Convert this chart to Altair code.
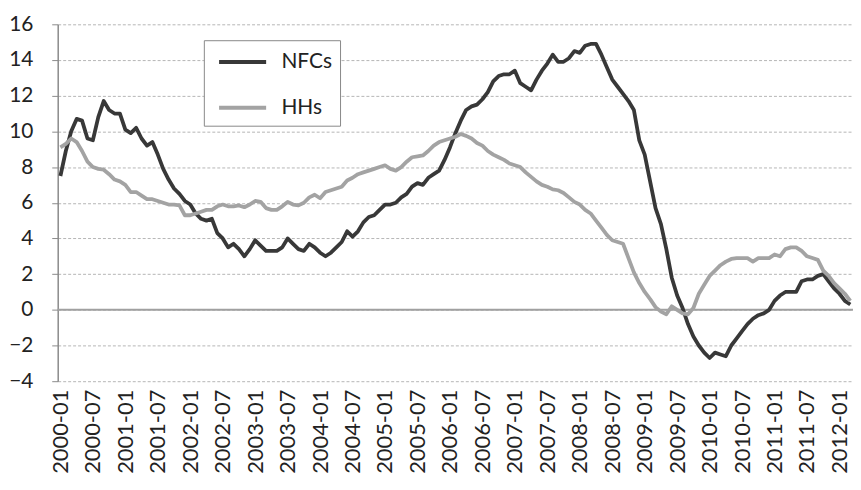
import altair as alt
import pandas as pd

# Monthly categories 2000-01 .. 2012-03
months = [f"{y}-{m:02d}" for y in range(2000, 2013) for m in range(1, 13)][:147]

nfcs = [
    7.5, 8.9, 10.0, 10.7, 10.6, 9.6, 9.5, 10.8, 11.7, 11.2, 11.0, 11.0,
    10.1, 9.9, 10.2, 9.6, 9.2, 9.4, 8.7, 7.9, 7.3, 6.8, 6.5, 6.1,
    5.9, 5.4, 5.1, 5.0, 5.1, 4.3, 4.0, 3.5, 3.7, 3.4, 3.0, 3.4,
    3.9, 3.6, 3.3, 3.3, 3.3, 3.5, 4.0, 3.7, 3.4, 3.3, 3.7, 3.5,
    3.2, 3.0, 3.2, 3.5, 3.8, 4.4, 4.1, 4.4, 4.9, 5.2, 5.3, 5.6,
    5.9, 5.9, 6.0, 6.3, 6.5, 6.9, 7.1, 7.0, 7.4, 7.6, 7.8, 8.4,
    9.1, 9.9, 10.6, 11.2, 11.4, 11.5, 11.8, 12.2, 12.8, 13.1, 13.2, 13.2,
    13.4, 12.7, 12.5, 12.3, 12.9, 13.4, 13.8, 14.3, 13.9, 13.9, 14.1, 14.5,
    14.4, 14.8, 14.9, 14.9, 14.3, 13.6, 12.9, 12.5, 12.1, 11.7, 11.2, 9.5,
    8.7, 7.2, 5.7, 4.8, 3.4, 1.8, 0.8, 0.1, -0.8, -1.5, -2.0, -2.4,
    -2.7, -2.4, -2.5, -2.6, -2.0, -1.6, -1.2, -0.8, -0.5, -0.3, -0.2, 0.0,
    0.5, 0.8, 1.0, 1.0, 1.0, 1.6, 1.7, 1.7, 1.9, 2.0, 1.6, 1.2,
    0.9, 0.5, 0.3,
]

hhs = [
    9.1, 9.3, 9.6, 9.4, 8.9, 8.3, 8.0, 7.9, 7.85, 7.6, 7.3, 7.2,
    7.0, 6.6, 6.6, 6.4, 6.2, 6.2, 6.1, 6.0, 5.9, 5.9, 5.85, 5.3,
    5.3, 5.4, 5.5, 5.6, 5.6, 5.8, 5.9, 5.8, 5.8, 5.85, 5.75, 5.9,
    6.1, 6.05, 5.7, 5.6, 5.6, 5.8, 6.05, 5.9, 5.85, 6.0, 6.3, 6.45,
    6.25, 6.6, 6.7, 6.8, 6.9, 7.25, 7.4, 7.6, 7.7, 7.8, 7.9, 8.0,
    8.1, 7.9, 7.8, 8.0, 8.3, 8.55, 8.6, 8.65, 8.9, 9.2, 9.4, 9.5,
    9.6, 9.7, 9.85, 9.75, 9.6, 9.35, 9.2, 8.9, 8.7, 8.55, 8.4, 8.2,
    8.1, 8.0, 7.7, 7.45, 7.2, 7.0, 6.9, 6.75, 6.7, 6.55, 6.3, 6.05,
    5.9, 5.6, 5.4, 5.0, 4.6, 4.2, 3.9, 3.8, 3.7, 2.9, 2.1, 1.5,
    1.0, 0.6, 0.15, -0.1, -0.25, 0.2, 0.0, -0.2, -0.25, 0.1, 0.9, 1.4,
    1.9, 2.2, 2.5, 2.7, 2.85, 2.9, 2.9, 2.9, 2.7, 2.9, 2.9, 2.9,
    3.1, 3.0, 3.4, 3.5, 3.5, 3.3, 3.0, 2.9, 2.8, 2.2, 1.9, 1.5,
    1.2, 0.9, 0.5,
]

series_names = ["NFCs", "HHs"]
series_colors = ["#383838", "#a3a3a3"]
y_ticks = list(range(-4, 17, 2))
x_label_months = [m for m in months if m.endswith("-01") or m.endswith("-07")]

df = pd.concat([
    pd.DataFrame({"month": months, "value": nfcs, "series": "NFCs", "order": range(len(months))}),
    pd.DataFrame({"month": months, "value": hhs, "series": "HHs", "order": range(len(months))}),
])

FONT = "Lato"

x_enc = alt.X(
    "month:O",
    sort=months,
    scale=alt.Scale(type="point", padding=0.5),
    axis=alt.Axis(
        values=x_label_months,
        labelAngle=-90,
        labelFontSize=22,
        labelFont=FONT,
        labelColor="#222222",
        labelPadding=8,
        labelBaseline="middle",
        ticks=False,
        domain=False,
        grid=False,
        title=None,
    ),
)

y_scale = alt.Scale(domain=[-4, 16], nice=False, zero=False)
y_axis = alt.Axis(
    values=y_ticks,
    tickCount=11,
    labelOverlap=False,
    labelFontSize=21,
    labelFont=FONT,
    labelColor="#222222",
    labelPadding=19,
    tickSize=6,
    tickColor="#8a8a8a",
    domainColor="#8a8a8a",
    domainWidth=1.5,
    gridColor="#b5b5b5",
    gridDash=[3, 2],
    gridWidth=1,
    title=None,
)

lines = alt.Chart(df).mark_line(strokeWidth=3.8, strokeJoin="round").encode(
    x=x_enc,
    y=alt.Y("value:Q", scale=y_scale, axis=y_axis),
    color=alt.Color(
        "series:N",
        scale=alt.Scale(domain=series_names, range=series_colors),
        sort=series_names,
        legend=alt.Legend(
            title=None,
            orient="none",
            legendX=147,
            legendY=16,
            symbolType="M-2,0H2",
            symbolSize=560,
            symbolStrokeWidth=4,
            symbolOffset=17,
            labelFontSize=21,
            labelFont=FONT,
            labelColor="#222222",
            labelOffset=25,
            labelExpr="datum.label + '\u00a0'",
            rowPadding=22,
            padding=8,
            strokeColor="#888888",
            fillColor="#ffffff",
            cornerRadius=0,
        ),
    ),
    order="order:Q",
)

zero_rule = alt.Chart(pd.DataFrame({"y": [0]})).mark_rule(color="#a0a0a0", strokeWidth=2).encode(
    y=alt.Y("y:Q", scale=y_scale, axis=y_axis)
)

chart = alt.layer(zero_rule, lines).properties(
    width=800,
    height=359,
    autosize=alt.AutoSizeParams(type="none"),
    padding={"left": 50, "top": 15, "right": 0, "bottom": 100},
).configure_view(stroke=None)

chart.save("out.html", embed_options={"renderer": "svg", "actions": False})
